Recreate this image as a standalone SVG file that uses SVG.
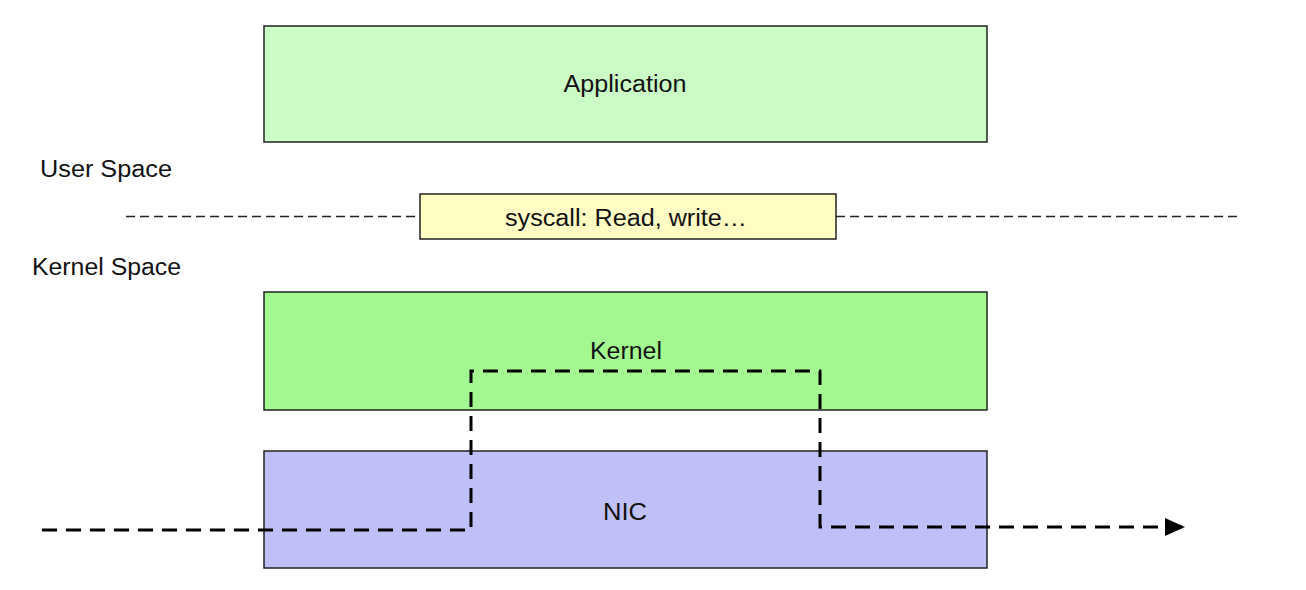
<svg xmlns="http://www.w3.org/2000/svg" width="1306" height="590" viewBox="0 0 1306 590">
<style>
.box{stroke:#222;stroke-width:1.5}
.lbl{font-family:"Liberation Sans",Arial,sans-serif;font-size:23px;fill:#111}
.c{text-anchor:middle}
.sep{fill:none;stroke:#222;stroke-width:1.3;stroke-dasharray:9 5}
.flow{fill:none;stroke:#000;stroke-width:3;stroke-dasharray:15 9}
</style>
<defs>
<marker id="arr" markerUnits="userSpaceOnUse" markerWidth="22" markerHeight="18" refX="20" refY="9" orient="auto">
<path d="M0,0 L20,9 L0,18 Z" fill="#000"/>
</marker>
</defs>
<rect width="1306" height="590" fill="#fff"/>
<g id="labels">
<text class="lbl" x="40" y="177" textLength="132" lengthAdjust="spacingAndGlyphs">User Space</text>
<text class="lbl" x="32" y="275" textLength="149" lengthAdjust="spacingAndGlyphs">Kernel Space</text>
</g>
<g id="connectors">
<line class="sep" x1="126" y1="216.5" x2="420" y2="216.5"/>
<line class="sep" x1="836" y1="216.5" x2="1238" y2="216.5"/>
</g>
<g id="application">
<rect class="box" x="264" y="26" width="723" height="116" fill="#ccfcc6"/>
<text class="lbl c" x="625" y="92" textLength="123" lengthAdjust="spacingAndGlyphs">Application</text>
</g>
<g id="syscall">
<rect class="box" x="420" y="194" width="416" height="45" fill="#fffcc4"/>
<text class="lbl c" x="626" y="226" textLength="242" lengthAdjust="spacingAndGlyphs">syscall: Read, write…</text>
</g>
<g id="kernel">
<rect class="box" x="264" y="292" width="723" height="118" fill="#a3f98f"/>
<text class="lbl c" x="626" y="359" textLength="72" lengthAdjust="spacingAndGlyphs">Kernel</text>
</g>
<g id="nic">
<rect class="box" x="264" y="451" width="723" height="117" fill="#c0c0f8"/>
<text class="lbl c" x="625" y="520" textLength="44" lengthAdjust="spacingAndGlyphs">NIC</text>
</g>
<g id="flow">
<path class="flow" d="M42,530 L471,530 L471,371 L820,371 L820,527 L1185,527" marker-end="url(#arr)"/>
</g>
</svg>
